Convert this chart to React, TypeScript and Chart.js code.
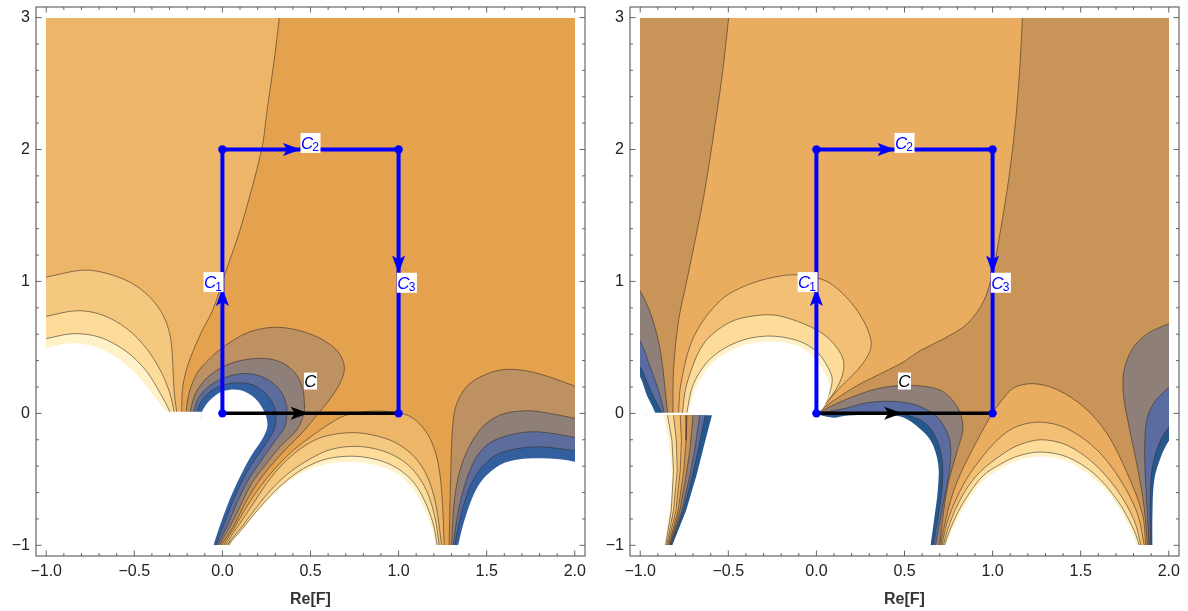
import React, { useEffect, useRef } from "react";
import { Chart, registerables } from "chart.js";

Chart.register(...registerables);

type P = number[];

/* ---------- axis ---------- */
const X_MIN = -1.058, X_MAX = 2.058, Y_MIN = -1.081, Y_MAX = 3.08;
const xMinorTicks = [-1, -0.9, -0.8, -0.7, -0.6, -0.5, -0.4, -0.3, -0.2, -0.1, 0, 0.1, 0.2, 0.3, 0.4, 0.5, 0.6, 0.7, 0.8, 0.9, 1, 1.1, 1.2, 1.3, 1.4, 1.5, 1.6, 1.7, 1.8, 1.9, 2];
const xMajorTicks = [-1, -0.5, 0, 0.5, 1, 1.5, 2];
const yMinorTicks = [-1, -0.8, -0.6, -0.4, -0.2, 0, 0.2, 0.4, 0.6, 0.8, 1, 1.2, 1.4, 1.6, 1.8, 2, 2.2, 2.4, 2.6, 2.8, 3];
const yMajorTicks = [-1, 0, 1, 2, 3];

/* ---------- colours ---------- */
const WHITE = "#ffffff";
const leftColors = ["#FFF2C8", "#FDDC9A", "#F5C87F", "#EDB567", "#E4A14E", "#BE9162", "#8E7F78", "#5C6C9D", "#335F9F"];
const rightColors = ["#FFF2C8", "#FDDC9A", "#F3BF74", "#EAAC5F", "#C99458", "#8E7F78", "#5A6CA2", "#26588F"];

/* ---------- contours: left panel ---------- */
const fullRect: P[] = [[-1.05, -1.07], [2.05, -1.07], [2.05, 3.07], [-1.05, 3.07]];
const leftRegion3: P[] = [[0.33, 3.07], [0.323, 3], [0.299, 2.727], [0.251, 2.273], [0.223, 2], [0.1, 1.389], [0.015, 1.061], [-0.051, 0.795], [-0.127, 0.593], [-0.193, 0.379], [-0.225, 0.202], [-0.231, 0.008], [-0.23, -0.05], [-1.05, -0.05], [-1.05, 3.07]];
const leftArchA: P[] = [[-1.05, 1.02], [-1, 1.033], [-0.788, 1.086], [-0.64, 1.055], [-0.5, 0.975], [-0.39, 0.85], [-0.325, 0.71], [-0.293, 0.56], [-0.282, 0.379], [-0.274, 0.17], [-0.259, 0.008], [-0.25, -0.05], [-1.05, -0.05]];
const leftArchB: P[] = [[-1.05, 0.72], [-1, 0.735], [-0.826, 0.778], [-0.68, 0.745], [-0.54, 0.64], [-0.43, 0.49], [-0.35, 0.32], [-0.3, 0.16], [-0.274, 0.008], [-0.27, -0.05], [-1.05, -0.05]];
const leftArchC: P[] = [[-1.05, 0.55], [-1, 0.566], [-0.845, 0.604], [-0.694, 0.576], [-0.543, 0.467], [-0.429, 0.316], [-0.353, 0.152], [-0.297, 0.008], [-0.29, -0.05], [-1.05, -0.05]];
const leftArchW: P[] = [[-1.05, 0.47], [-1, 0.492], [-0.902, 0.525], [-0.807, 0.528], [-0.694, 0.492], [-0.58, 0.404], [-0.467, 0.265], [-0.372, 0.101], [-0.319, 0.008], [-0.31, -0.05], [-1.05, -0.05]];

const coreE: P[] = [[-0.206, -0.05], [-0.206, 0.008], [-0.19, 0.15], [-0.145, 0.303], [-0.075, 0.41], [0.006, 0.505], [0.157, 0.619], [0.327, 0.652], [0.516, 0.593], [0.648, 0.48], [0.692, 0.354], [0.667, 0.227], [0.592, 0.076], [0.544, 0], [0.459, -0.139], [0.365, -0.265], [0.27, -0.404], [0.185, -0.556], [0.119, -0.707], [0.062, -0.859], [-0.004, -1], [-0.01, -1.07], [-1.05, -1.07], [-1.05, -0.05]];
const coreF: P[] = [[-0.183, -0.05], [-0.183, 0.008], [-0.15, 0.16], [-0.07, 0.29], [0.06, 0.385], [0.214, 0.417], [0.327, 0.391], [0.41, 0.31], [0.455, 0.19], [0.465, 0.08], [0.463, 0], [0.422, -0.126], [0.327, -0.253], [0.251, -0.379], [0.166, -0.53], [0.1, -0.707], [0.043, -0.859], [-0.015, -1], [-0.02, -1.07], [-1.05, -1.07], [-1.05, -0.05]];
const coreG: P[] = [[-0.164, -0.05], [-0.164, 0.008], [-0.13, 0.13], [-0.05, 0.23], [0.06, 0.29], [0.16, 0.3], [0.26, 0.255], [0.335, 0.16], [0.365, 0.05], [0.365, 0], [0.355, -0.101], [0.289, -0.227], [0.223, -0.354], [0.147, -0.505], [0.081, -0.682], [0.03, -0.846], [-0.026, -1], [-0.03, -1.07], [-1.05, -1.07], [-1.05, -0.05]];
const coreH: P[] = [[-0.146, -0.05], [-0.146, 0.008], [-0.11, 0.11], [-0.04, 0.19], [0.06, 0.23], [0.176, 0.215], [0.26, 0.13], [0.3, 0.02], [0.298, -0.101], [0.255, -0.215], [0.195, -0.328], [0.129, -0.467], [0.062, -0.657], [0.011, -0.833], [-0.036, -1], [-0.04, -1.07], [-1.05, -1.07], [-1.05, -0.05]];
const coreW: P[] = [[-0.117, -0.05], [-0.117, 0.008], [-0.07, 0.101], [0.006, 0.169], [0.1, 0.177], [0.185, 0.114], [0.242, 0], [0.255, -0.101], [0.223, -0.202], [0.166, -0.316], [0.091, -0.505], [0.025, -0.707], [-0.051, -1], [-0.06, -1.07], [-1.05, -1.07], [-1.05, -0.05]];
const leftMask: P[] = [[-1.05, -1.07], [-0.117, -1.07], [-0.117, 0.0126], [-1.05, 0.0126]];

const lowD: P[] = [[0.005, -1.07], [0.008, -1], [0.072, -0.859], [0.138, -0.707], [0.214, -0.556], [0.308, -0.404], [0.403, -0.278], [0.516, -0.164], [0.611, -0.076], [0.705, -0.013], [0.875, 0.018], [1.008, 0], [1.06, -0.02], [1.12, -0.08], [1.178, -0.19], [1.22, -0.35], [1.245, -0.6], [1.259, -1], [1.262, -1.07]];
const lowA: P[] = [[0.016, -1.07], [0.019, -1], [0.1, -0.833], [0.176, -0.682], [0.251, -0.53], [0.346, -0.379], [0.459, -0.253], [0.573, -0.177], [0.743, -0.146], [0.894, -0.177], [1.0, -0.235], [1.09, -0.33], [1.16, -0.47], [1.21, -0.68], [1.244, -1], [1.247, -1.07]];
const lowB: P[] = [[0.025, -1.07], [0.028, -1], [0.11, -0.86], [0.195, -0.71], [0.275, -0.58], [0.37, -0.46], [0.478, -0.36], [0.611, -0.275], [0.762, -0.25], [0.9, -0.28], [1.008, -0.345], [1.09, -0.44], [1.16, -0.59], [1.205, -0.78], [1.231, -1], [1.234, -1.07]];
const lowC: P[] = [[0.033, -1.07], [0.036, -1], [0.11, -0.88], [0.176, -0.77], [0.251, -0.655], [0.346, -0.53], [0.459, -0.42], [0.592, -0.345], [0.752, -0.325], [0.9, -0.36], [1.008, -0.43], [1.09, -0.53], [1.15, -0.67], [1.195, -0.83], [1.219, -1], [1.222, -1.07]];
const lowW: P[] = [[0.04, -1.07], [0.043, -1], [0.138, -0.846], [0.232, -0.7], [0.327, -0.57], [0.44, -0.46], [0.573, -0.39], [0.724, -0.369], [0.88, -0.395], [1.0, -0.465], [1.08, -0.57], [1.14, -0.71], [1.185, -0.86], [1.21, -1], [1.213, -1.07]];

const sideE: P[] = [[1.287, -1.07], [1.287, -1], [1.297, -0.404], [1.31, -0.05], [1.338, 0.101], [1.405, 0.227], [1.537, 0.316], [1.66, 0.333], [1.802, 0.298], [2, 0.207], [2.05, 0.18], [2.05, -1.07]];
const sideF: P[] = [[1.3, -1.07], [1.3, -1], [1.319, -0.631], [1.367, -0.354], [1.461, -0.126], [1.575, -0.013], [1.726, 0.02], [1.858, 0], [2, -0.038], [2.05, -0.05], [2.05, -1.07]];
const sideG: P[] = [[1.31, -1.07], [1.31, -1], [1.348, -0.682], [1.414, -0.404], [1.499, -0.24], [1.631, -0.164], [1.783, -0.139], [2, -0.182], [2.05, -0.195], [2.05, -1.07]];
const sideH: P[] = [[1.319, -1.07], [1.319, -1], [1.367, -0.707], [1.433, -0.48], [1.537, -0.328], [1.65, -0.273], [1.802, -0.253], [2, -0.283], [2.05, -0.29], [2.05, -1.07]];
const sideW: P[] = [[1.335, -1.07], [1.338, -1], [1.386, -0.758], [1.461, -0.53], [1.575, -0.391], [1.688, -0.348], [1.802, -0.341], [1.915, -0.348], [2, -0.366], [2.05, -0.375], [2.05, -1.07]];

/* ---------- contours: right panel ---------- */
const rightRegion3: P[] = [[-0.814, -0.05], [-0.814, 0.005], [-0.811, 0.326], [-0.782, 0.705], [-0.735, 1.008], [-0.64, 1.639], [-0.583, 2.119], [-0.536, 2.548], [-0.498, 2.997], [-0.495, 3.07], [1.172, 3.07], [1.169, 2.997], [1.157, 2.674], [1.131, 2.22], [1.093, 1.79], [1.045, 1.386], [0.998, 1.058], [0.951, 0.856], [0.856, 0.679], [0.723, 0.566], [0.591, 0.477], [0.477, 0.376], [0.25, 0.225], [0.098, 0.098], [0, 0]];
const rightArchA: P[] = [[-0.782, -0.05], [-0.782, 0.005], [-0.769, 0.225], [-0.697, 0.578], [-0.545, 0.856], [-0.375, 0.982], [-0.186, 1.045], [-0.072, 1.045], [0.06, 1.0], [0.17, 0.88], [0.26, 0.72], [0.31, 0.553], [0.298, 0.452], [0.231, 0.326], [0.136, 0.199], [0.05, 0.07], [0, 0]];
const rightArchB: P[] = [[-0.76, -0.05], [-0.76, 0.005], [-0.735, 0.225], [-0.64, 0.528], [-0.489, 0.692], [-0.337, 0.742], [-0.223, 0.742], [-0.072, 0.679], [0.04, 0.6], [0.115, 0.5], [0.155, 0.39], [0.14, 0.26], [0.08, 0.12], [0, 0]];
const rightArchC: P[] = [[-0.735, -0.05], [-0.735, 0.005], [-0.697, 0.225], [-0.602, 0.414], [-0.451, 0.54], [-0.28, 0.586], [-0.11, 0.553], [0.0, 0.47], [0.065, 0.35], [0.09, 0.25], [0.06, 0.11], [0, 0]];
const rightArchW: P[] = [[-0.725, -0.05], [-0.725, 0.005], [-0.678, 0.212], [-0.583, 0.389], [-0.432, 0.508], [-0.261, 0.545], [-0.11, 0.515], [-0.02, 0.43], [0.05, 0.3], [0.075, 0.19], [0.05, 0.07], [0, -0.02]];

const stripA: P[] = [[-1.05, 1.0], [-1, 0.927], [-0.934, 0.73], [-0.883, 0.452], [-0.845, 0.005], [-0.84, -0.05], [-1.05, -0.05]];
const stripB: P[] = [[-1.05, 0.62], [-1, 0.548], [-0.943, 0.351], [-0.896, 0.174], [-0.864, 0.005], [-0.86, -0.05], [-1.05, -0.05]];
const stripC: P[] = [[-1.05, 0.42], [-1, 0.351], [-0.953, 0.212], [-0.905, 0.073], [-0.877, 0.005], [-0.87, -0.05], [-1.05, -0.05]];
const stripW: P[] = [[-1.05, 0.36], [-1, 0.275], [-0.962, 0.136], [-0.915, 0.005], [-0.91, -0.05], [-1.05, -0.05]];

const bendE: P[] = [[0, 0], [0.155, 0.098], [0.345, 0.187], [0.534, 0.212], [0.705, 0.174], [0.8, 0.048], [0.832, -0.104], [0.8, -0.28], [0.752, -0.508], [0.723, -0.735], [0.7, -1], [0.695, -1.07], [0, -1.07]];
const bendF: P[] = [[0, 0], [0.155, 0.035], [0.288, 0.081], [0.439, 0.091], [0.571, 0.061], [0.685, -0.028], [0.752, -0.179], [0.761, -0.356], [0.739, -0.558], [0.705, -0.785], [0.676, -1], [0.67, -1.07], [0, -1.07]];
const bendG: P[] = [[0, 0], [0.16, -0.005], [0.477, -0.005], [0.61, -0.066], [0.676, -0.179], [0.714, -0.356], [0.714, -0.558], [0.691, -0.785], [0.663, -1], [0.657, -1.07], [0, -1.07]];
const bendW: P[] = [[0, -0.002], [0.023, -0.015], [0.098, -0.033], [0.165, -0.018], [0.333, -0.008], [0.477, -0.023], [0.553, -0.078], [0.648, -0.205], [0.691, -0.381], [0.689, -0.583], [0.67, -0.785], [0.648, -1], [0.642, -1.07], [0, -1.07]];

const archR1: P[] = [[0.7, -1.07], [0.706, -1], [0.725, -0.861], [0.762, -0.659], [0.818, -0.457], [0.913, -0.205], [0.998, 0], [1.045, 0.086], [1.121, 0.194], [1.235, 0.225], [1.367, 0.179], [1.518, 0.048], [1.65, -0.154], [1.765, -0.457], [1.85, -0.76], [1.869, -1], [1.872, -1.07]];
const archR2: P[] = [[0.707, -1.07], [0.712, -1], [0.752, -0.785], [0.837, -0.533], [0.941, -0.331], [1.045, -0.179], [1.14, -0.098], [1.273, -0.066], [1.424, -0.116], [1.595, -0.28], [1.727, -0.508], [1.822, -0.76], [1.86, -1], [1.863, -1.07]];
const archR3: P[] = [[0.715, -1.07], [0.72, -1], [0.771, -0.785], [0.847, -0.583], [0.932, -0.44], [1.045, -0.32], [1.14, -0.245], [1.273, -0.2], [1.424, -0.242], [1.576, -0.381], [1.708, -0.583], [1.803, -0.81], [1.841, -1], [1.844, -1.07]];
const archR4: P[] = [[0.722, -1.07], [0.727, -1], [0.79, -0.785], [0.866, -0.609], [0.951, -0.467], [1.045, -0.385], [1.14, -0.325], [1.273, -0.293], [1.424, -0.331], [1.576, -0.457], [1.708, -0.659], [1.794, -0.861], [1.832, -1], [1.835, -1.07]];
const archRW: P[] = [[0.73, -1.07], [0.735, -1], [0.799, -0.81], [0.875, -0.634], [0.951, -0.505], [1.045, -0.419], [1.14, -0.36], [1.273, -0.326], [1.424, -0.364], [1.576, -0.495], [1.689, -0.659], [1.775, -0.861], [1.818, -1], [1.821, -1.07]];

const edgeS1: P[] = [[1.879, -1.07], [1.879, -1], [1.86, -0.71], [1.822, -0.407], [1.775, -0.104], [1.742, 0.149], [1.746, 0.326], [1.794, 0.49], [1.879, 0.604], [2, 0.679], [2.05, 0.7], [2.05, -1.07]];
const edgeS2: P[] = [[1.888, -1.07], [1.888, -1], [1.879, -0.76], [1.866, -0.457], [1.864, -0.205], [1.879, -0.028], [1.926, 0.098], [2, 0.194], [2.05, 0.24], [2.05, -1.07]];
const edgeS3: P[] = [[1.898, -1.07], [1.898, -1], [1.894, -0.659], [1.907, -0.407], [1.945, -0.23], [2, -0.104], [2.05, -0.04], [2.05, -1.07]];
const edgeW: P[] = [[1.907, -1.07], [1.907, -1], [1.907, -0.785], [1.917, -0.508], [1.955, -0.331], [2, -0.21], [2.05, -0.13], [2.05, -1.07]];

const rightMask: P[] = [[-1.05, -1.07], [0.008, -1.07], [0.008, 0.005], [-1.05, 0.005]];

const wedgeRight: P[] = [[-0.593, -0.015], [-0.64, -0.255], [-0.678, -0.457], [-0.739, -0.735], [-0.818, -1], [-0.83, -1.07], [-0.97, -1.07], [-0.97, -0.015]];
const wedgeI: P[] = [[-0.631, -0.015], [-0.667, -0.255], [-0.701, -0.457], [-0.754, -0.735], [-0.826, -1], [-0.835, -1.07], [-0.97, -1.07], [-0.97, -0.015]];
const wedgeH: P[] = [[-0.663, -0.015], [-0.688, -0.255], [-0.716, -0.457], [-0.763, -0.735], [-0.831, -1], [-0.84, -1.07], [-0.97, -1.07], [-0.97, -0.015]];
const wedgeG: P[] = [[-0.701, -0.015], [-0.716, -0.255], [-0.738, -0.457], [-0.775, -0.735], [-0.835, -1], [-0.845, -1.07], [-0.97, -1.07], [-0.97, -0.015]];
const wedgeF: P[] = [[-0.735, -0.015], [-0.74, -0.205], [-0.753, -0.432], [-0.785, -0.735], [-0.839, -1], [-0.85, -1.07], [-0.97, -1.07], [-0.97, -0.015]];
const wedgeE: P[] = [[-0.773, -0.015], [-0.766, -0.205], [-0.773, -0.432], [-0.797, -0.735], [-0.845, -1], [-0.855, -1.07], [-0.97, -1.07], [-0.97, -0.015]];
const wedgeD: P[] = [[-0.811, -0.015], [-0.795, -0.205], [-0.79, -0.432], [-0.811, -0.735], [-0.85, -1], [-0.86, -1.07], [-0.97, -1.07], [-0.97, -0.015]];
const wedgeC: P[] = [[-0.845, -0.015], [-0.82, -0.205], [-0.811, -0.432], [-0.824, -0.735], [-0.856, -1], [-0.865, -1.07], [-0.97, -1.07], [-0.97, -0.015]];
const wedgeW: P[] = [[-0.867, -0.015], [-0.839, -0.205], [-0.82, -0.432], [-0.826, -0.659], [-0.864, -1], [-0.87, -1.07], [-0.985, -1.07], [-0.985, -0.015]];

/* ---------- integration paths ---------- */
const pathC: P[] = [[0, 0], [1, 0]];
const pathBlue: P[] = [[0, 0], [0, 2], [1, 2], [1, 0]];
const leftArrows = [
  { x: 0, y: 0.95, dir: "up", color: "#0000FF" },
  { x: 0.446, y: 2, dir: "right", color: "#0000FF" },
  { x: 1, y: 1.06, dir: "down", color: "#0000FF" },
  { x: 0.49, y: 0, dir: "right", color: "#000000" },
];
const rightArrows = [
  { x: 0, y: 0.95, dir: "up", color: "#0000FF" },
  { x: 0.449, y: 2, dir: "right", color: "#0000FF" },
  { x: 1, y: 1.06, dir: "down", color: "#0000FF" },
  { x: 0.487, y: 0, dir: "right", color: "#000000" },
];
const pathLabels = [
  { x: -0.05, y: 0.995, base: "C", sub: "1", color: "#0000FF" },
  { x: 0.5, y: 2.05, base: "C", sub: "2", color: "#0000FF" },
  { x: 1.047, y: 0.99, base: "C", sub: "3", color: "#0000FF" },
  { x: 0.5, y: 0.245, base: "C", sub: "", color: "#000000" },
];

const FONT = '"Liberation Sans", Arial, sans-serif';
const toXY = (pts: P[]) => pts.map(([x, y]) => ({ x, y }));

function shape(pts: P[], color: string, opts: { line?: boolean; tension?: number } = {}) {
  const line = opts.line !== false;
  return {
    data: toXY(pts),
    showLine: true,
    fill: "shape",
    backgroundColor: color,
    borderColor: line ? "rgba(55,45,35,0.72)" : "rgba(0,0,0,0)",
    borderWidth: line ? 0.8 : 0,
    tension: opts.tension ?? 0.33,
    pointRadius: 0,
    pointHoverRadius: 0,
  };
}

function leftLayers() {
  const c = leftColors;
  return [
    shape(fullRect, c[4], { line: false, tension: 0 }),
    shape(leftRegion3, c[3]),
    shape(leftArchA, c[2]),
    shape(leftArchB, c[1]),
    shape(leftArchC, c[0]),
    shape(leftArchW, WHITE, { line: false }),
    shape(coreE, c[5]),
    shape(coreF, c[6]),
    shape(coreG, c[7]),
    shape(coreH, c[8]),
    shape(coreW, WHITE, { line: false }),
    shape(leftMask, WHITE, { line: false, tension: 0 }),
    shape(lowD, c[3]),
    shape(lowA, c[2]),
    shape(lowB, c[1]),
    shape(lowC, c[0]),
    shape(lowW, WHITE, { line: false }),
    shape(sideE, c[5]),
    shape(sideF, c[6]),
    shape(sideG, c[7]),
    shape(sideH, c[8]),
    shape(sideW, WHITE, { line: false }),
  ];
}

function rightLayers() {
  const c = rightColors;
  return [
    shape(fullRect, c[4], { line: false, tension: 0 }),
    shape(edgeS1, c[5]),
    shape(edgeS2, c[6]),
    shape(edgeS3, c[7]),
    shape(edgeW, WHITE, { line: false }),
    shape(rightRegion3, c[3]),
    shape(rightArchA, c[2]),
    shape(rightArchB, c[1]),
    shape(rightArchC, c[0]),
    shape(rightArchW, WHITE, { line: false }),
    shape(stripA, c[5]),
    shape(stripB, c[6]),
    shape(stripC, c[7]),
    shape(stripW, WHITE, { line: false }),
    shape(bendE, c[5]),
    shape(bendF, c[6]),
    shape(bendG, c[7]),
    shape(bendW, WHITE, { line: false }),
    shape(archR1, c[3]),
    shape(archR2, c[2]),
    shape(archR3, c[1]),
    shape(archR4, c[0]),
    shape(archRW, WHITE, { line: false }),
    shape(rightMask, WHITE, { line: false, tension: 0 }),
    shape(wedgeRight, c[7], { line: false, tension: 0 }),
    shape(wedgeI, c[6], { tension: 0 }),
    shape(wedgeH, c[5], { tension: 0 }),
    shape(wedgeG, c[4], { tension: 0 }),
    shape(wedgeF, c[3], { tension: 0 }),
    shape(wedgeE, c[2], { tension: 0 }),
    shape(wedgeD, c[1], { tension: 0 }),
    shape(wedgeC, c[0], { tension: 0 }),
    shape(wedgeW, WHITE, { line: false, tension: 0 }),
  ];
}

function pathLayers() {
  return [
    { data: toXY(pathC), showLine: true, borderColor: "#000000", borderWidth: 3.5, pointRadius: 0, tension: 0 },
    { data: toXY(pathBlue), showLine: true, borderColor: "#0000FF", borderWidth: 4, pointRadius: 4.2, pointBackgroundColor: "#0000FF", pointBorderWidth: 0, tension: 0 },
  ];
}

function makeFramePlugin(arrows: typeof leftArrows) {
  return {
    id: "frameAndMarks",
    beforeDatasetsDraw(chart: any) {
      const { ctx, scales } = chart;
      const l = Math.round(scales.x.getPixelForValue(-1)), r = Math.round(scales.x.getPixelForValue(2));
      const t = Math.round(scales.y.getPixelForValue(3)), b = Math.round(scales.y.getPixelForValue(-1));
      ctx.save();
      ctx.beginPath();
      ctx.rect(l, t, r - l, b - t);
      ctx.clip();
    },
    afterDatasetsDraw(chart: any) {
      const { ctx, scales } = chart;
      ctx.restore();
      for (const a of arrows) {
        const px = scales.x.getPixelForValue(a.x), py = scales.y.getPixelForValue(a.y);
        const ang = a.dir === "up" ? -Math.PI / 2 : a.dir === "down" ? Math.PI / 2 : 0;
        ctx.save();
        ctx.translate(px, py);
        ctx.rotate(ang);
        ctx.fillStyle = a.color;
        ctx.beginPath();
        ctx.moveTo(0, 0);
        ctx.lineTo(-18, -6.5);
        ctx.lineTo(-14, 0);
        ctx.lineTo(-18, 6.5);
        ctx.closePath();
        ctx.fill();
        ctx.restore();
      }
      for (const lb of pathLabels) {
        const px = scales.x.getPixelForValue(lb.x), py = scales.y.getPixelForValue(lb.y);
        const w = lb.sub ? 20 : 13, h = lb.sub ? 20 : 17;
        ctx.save();
        ctx.fillStyle = "#ffffff";
        ctx.fillRect(px - w / 2, py - h / 2, w, h);
        ctx.fillStyle = lb.color;
        ctx.textBaseline = "alphabetic";
        ctx.font = `italic 17px ${FONT}`;
        ctx.textAlign = "left";
        const baseW = ctx.measureText(lb.base).width;
        const startX = px - (lb.sub ? 9.5 : baseW / 2);
        ctx.fillText(lb.base, startX, py + 6);
        if (lb.sub) {
          ctx.font = `12px ${FONT}`;
          ctx.fillText(lb.sub, startX + baseW - 1, py + 8.5);
        }
        ctx.restore();
      }
    },
    afterDraw(chart: any) {
      const { ctx, chartArea: a, scales } = chart;
      ctx.save();
      ctx.strokeStyle = "#5a5a5a";
      ctx.lineWidth = 1.1;
      ctx.strokeRect(a.left, a.top, a.right - a.left, a.bottom - a.top);
      ctx.strokeStyle = "#555555";
      ctx.lineWidth = 0.9;
      const tick = (x1: number, y1: number, x2: number, y2: number) => {
        ctx.beginPath();
        ctx.moveTo(x1, y1);
        ctx.lineTo(x2, y2);
        ctx.stroke();
      };
      const major = (list: number[], v: number) => list.some((m) => Math.abs(m - v) < 1e-6);
      for (const v of xMinorTicks) {
        const p = scales.x.getPixelForValue(v);
        const len = major(xMajorTicks, v) ? 5.5 : 3;
        tick(p, a.bottom, p, a.bottom - len);
        tick(p, a.top, p, a.top + len);
      }
      for (const v of yMinorTicks) {
        const p = scales.y.getPixelForValue(v);
        const len = major(yMajorTicks, v) ? 5.5 : 3;
        tick(a.left, p, a.left + len, p);
        tick(a.right, p, a.right - len, p);
      }
      ctx.restore();
    },
  };
}

const noPadding = (s: any) => {
  s.paddingTop = 0;
  s.paddingBottom = 0;
  s.paddingLeft = 0;
  s.paddingRight = 0;
};

function buildChart(canvas: HTMLCanvasElement, layers: any[], arrows: typeof leftArrows) {
  const all = [...layers, ...pathLayers()].reverse();
  return new Chart(canvas, {
    type: "scatter",
    data: { datasets: all },
    plugins: [makeFramePlugin(arrows)],
    options: {
      responsive: false,
      animation: false,
      devicePixelRatio: 1,
      layout: { autoPadding: false, padding: { left: 0, top: 7, right: 9, bottom: 0 } },
      plugins: { legend: { display: false }, tooltip: { enabled: false } },
      events: [],
      scales: {
        x: {
          type: "linear",
          min: X_MIN,
          max: X_MAX,
          afterFit: (s: any) => { s.height = 55; noPadding(s); },
          grid: { display: false, drawTicks: false },
          border: { display: false },
          ticks: {
            stepSize: 0.5,
            includeBounds: false,
            autoSkip: false,
            maxRotation: 0,
            padding: 6,
            color: "#222222",
            font: { family: FONT, size: 16 },
            callback: (v: any) => Number(v).toFixed(1).replace("-", "\u2212"),
          },
          title: {
            display: true,
            text: "Re[F]",
            color: "#333333",
            font: { family: FONT, size: 16, weight: "bold" },
            padding: { top: 6, bottom: 2 },
          },
        },
        y: {
          type: "linear",
          min: Y_MIN,
          max: Y_MAX,
          afterFit: (s: any) => { s.width = 36; noPadding(s); },
          grid: { display: false, drawTicks: false },
          border: { display: false },
          ticks: {
            stepSize: 1,
            includeBounds: false,
            autoSkip: false,
            padding: 6,
            color: "#222222",
            font: { family: FONT, size: 16 },
            callback: (v: any) => String(v).replace("-", "\u2212"),
          },
        },
      },
    } as any,
  } as any);
}

export default function App() {
  const leftRef = useRef<HTMLCanvasElement>(null);
  const rightRef = useRef<HTMLCanvasElement>(null);
  useEffect(() => {
    const a = buildChart(leftRef.current!, leftLayers(), leftArrows);
    const b = buildChart(rightRef.current!, rightLayers(), rightArrows);
    return () => {
      a.destroy();
      b.destroy();
    };
  }, []);
  return (
    <div style={{ position: "fixed", left: 0, top: 0, width: 1188, height: 611, background: "#fff", overflow: "hidden" }}>
      <canvas ref={leftRef} width={594} height={611} style={{ position: "absolute", left: 0, top: 0 }} />
      <canvas ref={rightRef} width={594} height={611} style={{ position: "absolute", left: 594, top: 0 }} />
    </div>
  );
}
